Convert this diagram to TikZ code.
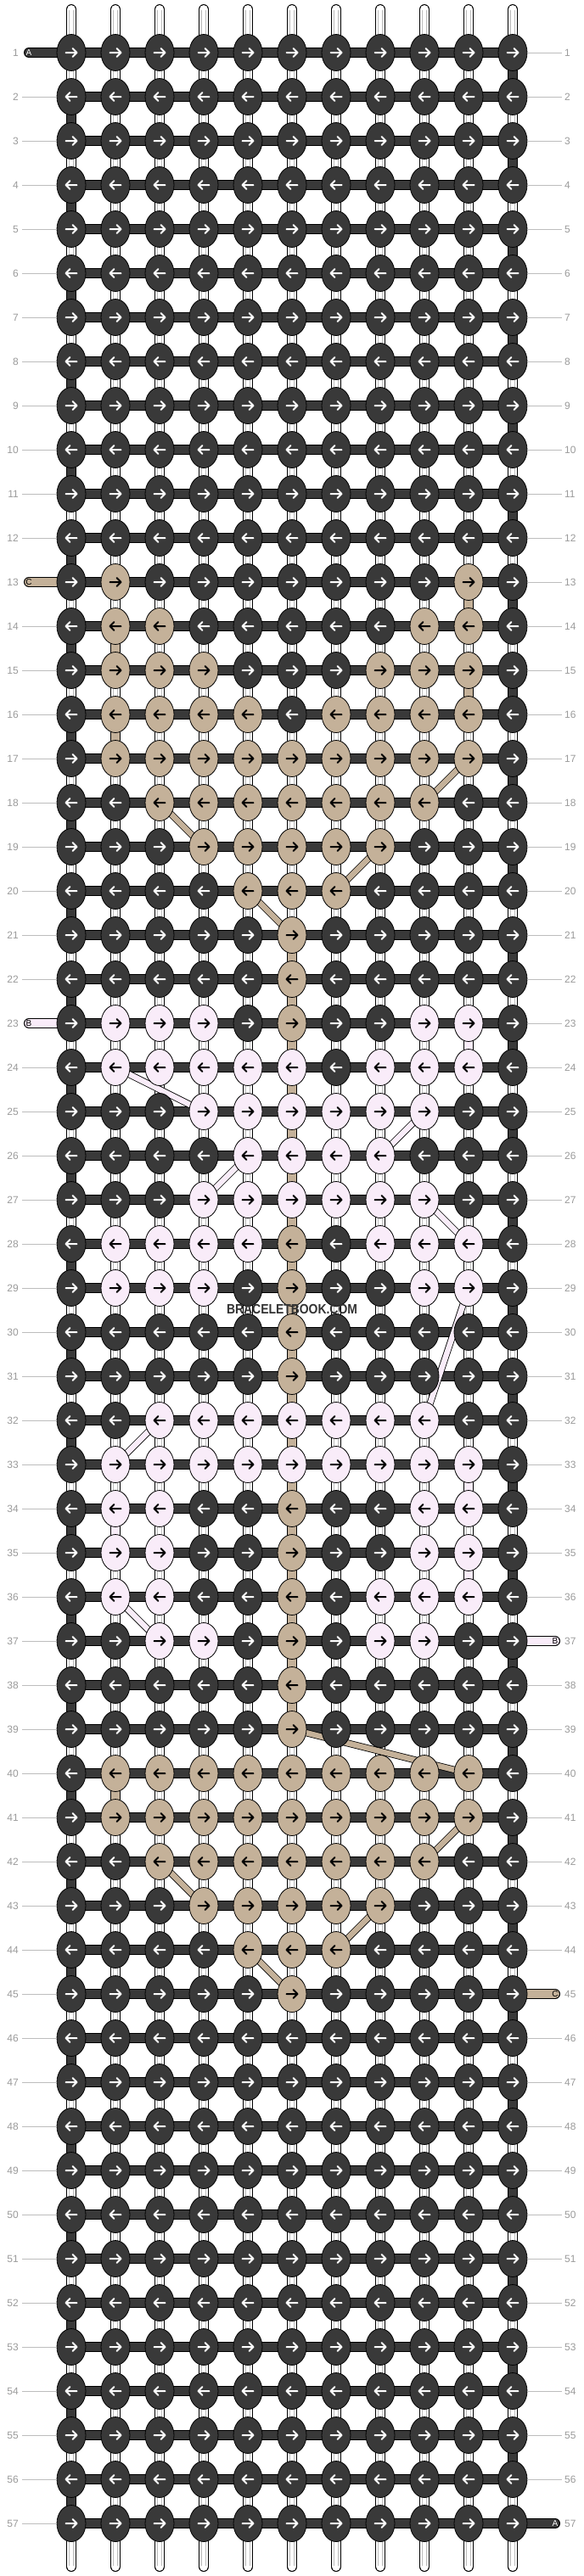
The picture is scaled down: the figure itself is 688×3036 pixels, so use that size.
\documentclass[tikz,border=0pt]{standalone}
\usepackage{fontspec}
\usepackage{graphicx}
\setmainfont{Liberation Sans}
\usetikzlibrary{shapes.geometric}
\definecolor{darkc}{HTML}{393939}
\definecolor{tanc}{HTML}{C4B199}
\definecolor{pinkc}{HTML}{F9ECF9}
\definecolor{labc}{HTML}{9B9B9B}
\definecolor{linc}{HTML}{BDBDBD}
\definecolor{wmc}{HTML}{333333}
\tikzset{
  whitestrand/.style={draw=black, double=white, double distance=10pt, line width=1pt, line cap=round},
  innerlines/.style={draw=linc, double=white, double distance=3.6pt, line width=0.9pt},
  vseg/.style={draw=black, double=#1, double distance=10pt, line width=1pt},
  hbar/.style={draw=black, double=#1, double distance=10pt, line width=1pt},
  stubbar/.style={draw=black, double=#1, double distance=10pt, line width=1pt, line cap=round},
  diagbar/.style={draw=black, double=#1, double distance=6.5pt, line width=0.8pt},
  knotbase/.style={ellipse, draw=black, line width=0.8pt, minimum width=34pt, minimum height=43pt, inner sep=0pt},
  kn-darkc/.style={knotbase, fill=darkc},
  kn-tanc/.style={knotbase, fill=tanc},
  kn-pinkc/.style={knotbase, fill=pinkc},
  arrowbase/.style={line width=2pt, line cap=round, line join=round},
  ar-darkc/.style={arrowbase, draw=white},
  ar-tanc/.style={arrowbase, draw=black},
  ar-pinkc/.style={arrowbase, draw=black},
  rownum/.style={text=labc, font=\fontsize{12}{12}\selectfont, inner sep=0pt},
  labline/.style={draw=linc, line width=1pt},
  stubtxt-darkc/.style={text=white, font=\fontsize{10}{10}\selectfont, inner sep=0pt},
  stubtxt-tanc/.style={text=black, font=\fontsize{10}{10}\selectfont, inner sep=0pt},
  stubtxt-pinkc/.style={text=black, font=\fontsize{10}{10}\selectfont, inner sep=0pt},
}
\begin{document}
\begin{tikzpicture}[x=1pt,y=-1pt]
\useasboundingbox (0,0) rectangle (688,3036);
\fill[white] (0,0) rectangle (688,3036);
% grid coordinates
\foreach \r in {1,...,57}{
  \foreach \c in {1,...,11}{
    \coordinate (p-\r-\c) at ({84+52*(\c-1)},{62+52*(\r-1)});
  }
  \coordinate (ll-\r) at (26,{62+52*(\r-1)});
  \coordinate (rl-\r) at (662,{62+52*(\r-1)});
  \coordinate (ls-\r) at (34,{62+52*(\r-1)});
  \coordinate (rs-\r) at (654,{62+52*(\r-1)});
}
\foreach \c in {1,...,11}{
  \coordinate (top-\c) at ({84+52*(\c-1)},11);
  \coordinate (bot-\c) at ({84+52*(\c-1)},3025);
  \coordinate (topi-\c) at ({84+52*(\c-1)},12);
  \coordinate (boti-\c) at ({84+52*(\c-1)},3024);
}
% knot colour table
\foreach \r/\cs in {13/{2,10},14/{2,3,9,10},15/{2,3,4,8,9,10},16/{2,3,4,5,7,8,9,10},17/{2,...,10},18/{3,...,9},19/{4,...,8},20/{5,6,7},21/{6},22/{6},23/{6},28/{6},29/{6},30/{6},31/{6},34/{6},35/{6},36/{6},37/{6},38/{6},39/{6},40/{2,...,10},41/{2,...,10},42/{3,...,9},43/{4,...,8},44/{5,6,7},45/{6}}{
  \foreach \c in \cs {\expandafter\gdef\csname kc-\r-\c\endcsname{tanc}}
}
\foreach \r/\cs in {23/{2,3,4,9,10},24/{2,3,4,5,6,8,9,10},25/{4,...,9},26/{5,...,8},27/{4,...,9},28/{2,3,4,5,8,9,10},29/{2,3,4,9,10},32/{3,...,9},33/{2,...,10},34/{2,3,9,10},35/{2,3,9,10},36/{2,3,8,9,10},37/{3,4,8,9}}{
  \foreach \c in \cs {\expandafter\gdef\csname kc-\r-\c\endcsname{pinkc}}
}
% white vertical strands
\foreach \c in {1,...,11}{
  \draw[whitestrand] (top-\c) -- (bot-\c);
  \draw[innerlines] (topi-\c) -- (boti-\c);
}
% edge turns of the carrier
\foreach \r in {1,3,...,55}{
  \pgfmathtruncatemacro\rn{\r+1}
  \draw[vseg=darkc] (p-\r-11) -- (p-\rn-11);
}
\foreach \r in {2,4,...,56}{
  \pgfmathtruncatemacro\rn{\r+1}
  \draw[vseg=darkc] (p-\r-1) -- (p-\rn-1);
}
% coloured vertical segments
\foreach \r/\c/\col in {13/10/tanc,14/2/tanc,15/10/tanc,16/2/tanc,21/6/tanc,22/6/tanc,23/6/tanc,24/6/tanc,25/6/tanc,26/6/tanc,27/6/tanc,28/6/tanc,29/6/tanc,30/6/tanc,31/6/tanc,32/6/tanc,33/6/tanc,34/6/tanc,35/6/tanc,36/6/tanc,37/6/tanc,38/6/tanc,40/2/tanc,23/10/pinkc,33/10/pinkc,35/10/pinkc,34/2/pinkc}{
  \pgfmathtruncatemacro\rn{\r+1}
  \draw[vseg=\col] (p-\r-\c) -- (p-\rn-\c);
}
% horizontal carrier bars
\foreach \r in {1,...,57}{
  \draw[hbar=darkc] (p-\r-1) -- (p-\r-11);
}
% stubs
\foreach \r/\col/\t in {1/darkc/A,13/tanc/C,23/pinkc/B}{
  \draw[stubbar=\col] (ls-\r) -- (p-\r-1);
  \node[stubtxt-\col] (lst-\r) at (ls-\r) {\t};
}
\foreach \r/\col/\t in {37/pinkc/B,45/tanc/C,57/darkc/A}{
  \draw[stubbar=\col] (p-\r-11) -- (rs-\r);
  \node[stubtxt-\col] (rst-\r) at (rs-\r) {\t};
}
% diagonal floats
\foreach \ra/\ca/\rb/\cb/\col in {17/10/18/9/tanc,18/3/19/4/tanc,19/8/20/7/tanc,20/5/21/6/tanc,39/6/40/10/tanc,41/10/42/9/tanc,42/3/43/4/tanc,43/8/44/7/tanc,44/5/45/6/tanc,24/2/25/4/pinkc,25/9/26/8/pinkc,26/5/27/4/pinkc,27/9/28/10/pinkc,29/10/32/9/pinkc,32/3/33/2/pinkc,36/2/37/3/pinkc}{
  \draw[diagbar=\col] (p-\ra-\ca) -- (p-\rb-\cb);
}
% knots and arrows
\foreach \r in {1,...,57}{
  \foreach \c in {1,...,11}{
    \ifcsname kc-\r-\c\endcsname
      \edef\kc{\csname kc-\r-\c\endcsname}%
    \else
      \def\kc{darkc}%
    \fi
    \node[kn-\kc] (k-\r-\c) at (p-\r-\c) {};
    \ifodd\r\relax \def\dir{1}\else\def\dir{-1}\fi
    \draw[ar-\kc, shift={(p-\r-\c)}, xscale=\dir] (-6.5,0) -- (6.5,0) (1.5,-5) -- (6.5,0) -- (1.5,5);
  }
}
% row labels
\foreach \r in {1,...,57}{
  \node[rownum, anchor=east] (ln-\r) at (22,{62+52*(\r-1)}) {\r};
  \node[rownum, anchor=west] (rn-\r) at (665,{62+52*(\r-1)}) {\r};
}
\foreach \r in {2,...,12,14,15,...,22,24,25,...,57}{
  \draw[labline] (ll-\r) -- (k-\r-1.west);
}
\foreach \r in {1,...,36,38,39,...,44,46,47,...,56}{
  \draw[labline] (k-\r-11.east) -- (rl-\r);
}
% watermark
\node[text=wmc, font=\fontsize{16}{16}\selectfont\bfseries, inner sep=0pt] (wm) at (344,1543) {\scalebox{0.87}[1]{BRACELETBOOK.COM}};
\end{tikzpicture}
\end{document}
